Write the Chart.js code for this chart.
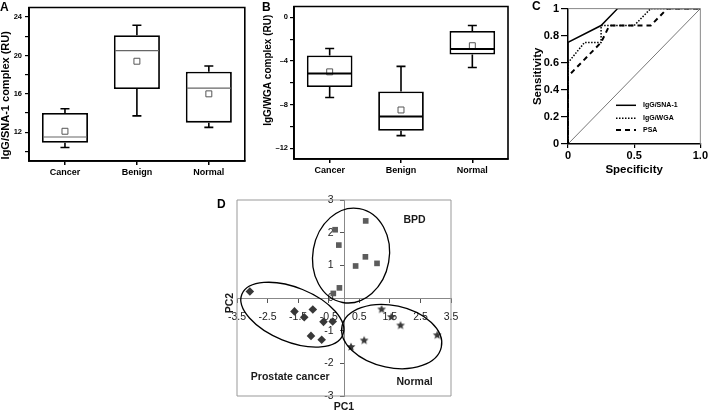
<!DOCTYPE html>
<html>
<head>
<meta charset="utf-8">
<script src="https://cdn.jsdelivr.net/npm/chart.js@4.4.1/dist/chart.umd.min.js"></script>
<style>
  html, body { margin: 0; padding: 0; background: #fff; }
  body { width: 709px; height: 412px; position: relative; overflow: hidden; font-family: 'Liberation Sans', Arial, sans-serif; }
  canvas, .tag { position: absolute; }
  .tag { font-weight: bold; font-size: 12px; line-height: 12px; color: #000; }
</style>
</head>
<body>
<canvas id="chartA" width="250" height="178" style="left:0px;top:0px"></canvas>
<canvas id="chartB" width="253" height="178" style="left:262px;top:0px"></canvas>
<canvas id="chartC" width="194" height="178" style="left:515px;top:0px"></canvas>
<canvas id="chartD" width="270" height="227" style="left:200px;top:185px"></canvas>
<div class="tag" style="left:0px;top:1px">A</div>
<div class="tag" style="left:262px;top:1px">B</div>
<div class="tag" style="left:532px;top:0px">C</div>
<div class="tag" style="left:217px;top:198px">D</div>
<script>
const groups = ['Cancer', 'Benign', 'Normal'];

// A - IgG/SNA-1 complex (RU)
const snaMin = [10.4, 13.7, 12.5];
const snaQ1 = [10.9, 16.5, 13.0];
const snaMedian = [11.5, 20.5, 16.6];
const snaQ3 = [14.0, 22.1, 18.3];
const snaMax = [14.45, 23.15, 18.9];
const snaMean = [12.1, 19.4, 16.0];
const snaTicks = [10, 12, 14, 16, 18, 20, 22, 24];
const snaTickLabels = ['', '12', '', '16', '', '20', '', '24'];

// B - IgG/WGA complex (RU)
const wgaMin = [-7.35, -10.85, -4.6];
const wgaQ1 = [-6.4, -10.4, -3.4];
const wgaMedian = [-5.15, -9.1, -2.9];
const wgaQ3 = [-3.5, -6.8, -1.25];
const wgaMax = [-2.85, -4.5, -0.75];
const wgaMean = [-5.0, -8.5, -2.6];
const wgaTicks = [-12, -10, -8, -6, -4, -2, 0];
const wgaTickLabels = ['\u201312', '', '\u20138', '', '\u20134', '', '0'];

// C - ROC curves
const rocLabels = ['IgG/SNA-1', 'IgG/WGA', 'PSA'];
const specSna = [0, 0, 0.25, 0.375, 1];
const sensSna = [0, 0.75, 0.875, 1, 1];
const specWga = [0, 0, 0.125, 0.25, 0.25, 0.5, 0.625, 1];
const sensWga = [0, 0.6, 0.75, 0.75, 0.875, 0.875, 1, 1];
const specPsa = [0, 0, 0.25, 0.3125, 0.625, 0.75, 1];
const sensPsa = [0, 0.5, 0.75, 0.875, 0.875, 1, 1];
const chanceLine = [0, 1];
const rocXTicks = [0, 0.5, 1];
const rocXLabels = ['0', '0.5', '1.0'];
const rocYTicks = [0, 0.2, 0.4, 0.6, 0.8, 1];
const rocYLabels = ['0', '0.2', '0.4', '0.6', '0.8', '1'];

// D - PCA scores
const pcGroups = ['BPD', 'Prostate cancer', 'Normal'];
const bpdPC1 = [-0.29, -0.17, 0.71, 0.70, 1.08, 0.38, -0.15, -0.35];
const bpdPC2 = [2.09, 1.62, 2.36, 1.26, 1.06, 0.98, 0.31, 0.14];
const cancerPC1 = [-3.08, -1.62, -1.30, -1.02, -0.67, -0.37, -1.08, -0.73];
const cancerPC2 = [0.20, -0.41, -0.59, -0.35, -0.73, -0.72, -1.16, -1.28];
const normalPC1 = [1.23, 1.55, 1.85, 3.05, 0.66, 0.23];
const normalPC2 = [-0.35, -0.58, -0.84, -1.14, -1.30, -1.50];
const ellipseCx = [0.23, -1.69, 1.56];
const ellipseCy = [1.30, -0.51, -1.18];
const ellipseRx = [1.25, 1.78, 1.66];
const ellipseRy = [1.46, 0.83, 0.95];
const ellipseAngle = [10, 22, 12];
const groupLabelX = [2.31, -1.76, 2.31];
const groupLabelY = [2.39, -2.43, -2.56];
const pcXTicks = [-3.5, -2.5, -1.5, -0.5, 0.5, 1.5, 2.5, 3.5];
const pcXLabels = ['-3.5', '-2.5', '-1.5', '-0.5', '0.5', '1.5', '2.5', '3.5'];
const pcYTicks = [-3, -2, -1, 0, 1, 2, 3];
const pcYLabels = ['-3', '-2', '-1', '0', '1', '2', '3'];

Chart.defaults.font.family = "'Liberation Sans', Arial, sans-serif";
Chart.defaults.color = '#000';

const fixTicks = (values) => (sc) => { sc.ticks = values.map((v) => ({ value: v })); };

// frame round the plot area
const framePlugin = (color, width, sides) => ({
  id: 'frame',
  afterDraw(chart) {
    const { ctx, chartArea: a } = chart;
    ctx.save();
    ctx.strokeStyle = color;
    ctx.lineWidth = width;
    ctx.beginPath();
    if (sides === 'all') {
      ctx.rect(a.left, a.top, a.width, a.height);
    } else {
      ctx.moveTo(a.left, a.top);
      ctx.lineTo(a.right, a.top);
      ctx.lineTo(a.right, a.bottom);
    }
    ctx.stroke();
    ctx.restore();
  },
});

// whiskers and medians on top of the floating bars
const whiskerPlugin = (s) => ({
  id: 'whiskers',
  afterDatasetsDraw(chart) {
    const { ctx } = chart;
    const y = chart.scales.y;
    const bars = chart.getDatasetMeta(0).data;
    ctx.save();
    bars.forEach((bar, i) => {
      const cx = bar.x;
      const half = bar.width / 2;
      const cap = 4.5;
      ctx.strokeStyle = '#000';
      ctx.lineWidth = 1.6;
      ctx.beginPath();
      ctx.moveTo(cx, y.getPixelForValue(s.q3[i]));
      ctx.lineTo(cx, y.getPixelForValue(s.max[i]));
      ctx.moveTo(cx - cap, y.getPixelForValue(s.max[i]));
      ctx.lineTo(cx + cap, y.getPixelForValue(s.max[i]));
      ctx.moveTo(cx, y.getPixelForValue(s.q1[i]));
      ctx.lineTo(cx, y.getPixelForValue(s.min[i]));
      ctx.moveTo(cx - cap, y.getPixelForValue(s.min[i]));
      ctx.lineTo(cx + cap, y.getPixelForValue(s.min[i]));
      ctx.stroke();
      ctx.strokeStyle = s.medianColor;
      ctx.lineWidth = s.medianWidth;
      ctx.beginPath();
      ctx.moveTo(cx - half + 1, y.getPixelForValue(s.median[i]));
      ctx.lineTo(cx + half - 1, y.getPixelForValue(s.median[i]));
      ctx.stroke();
    });
    ctx.restore();
  },
});

function boxChart(id, s) {
  return new Chart(document.getElementById(id), {
    type: 'bar',
    data: {
      labels: groups,
      datasets: [
        {
          data: groups.map((g, i) => [s.q1[i], s.q3[i]]),
          backgroundColor: '#fff',
          borderColor: '#000',
          borderWidth: 1.8,
          borderSkipped: false,
          barPercentage: 0.64,
          categoryPercentage: 1,
          order: 1,
        },
        {
          type: 'line',
          data: s.mean,
          showLine: false,
          pointStyle: 'rect',
          pointRadius: 4.2,
          pointBackgroundColor: '#fff',
          pointBorderColor: '#555',
          pointBorderWidth: 1,
          order: 0,
        },
      ],
    },
    options: {
      responsive: false,
      animation: false,
      events: [],
      layout: { padding: s.padding },
      plugins: { legend: { display: false }, tooltip: { enabled: false } },
      scales: {
        x: {
          grid: { offset: false, drawOnChartArea: false, tickLength: 4, color: '#000', lineWidth: 1.5 },
          border: { color: '#000', width: 1.8 },
          ticks: { color: '#000', font: { size: 9, weight: 'bold' }, padding: 2 },
          afterFit: (sc) => { sc.height = s.xHeight; },
        },
        y: {
          min: s.yMin,
          max: s.yMax,
          afterBuildTicks: fixTicks(s.ticks),
          ticks: {
            autoSkip: false,
            callback: (v, i) => s.tickLabels[i],
            color: '#000',
            font: { size: 7.5, weight: 'bold' },
            padding: s.tickPad,
          },
          grid: { drawOnChartArea: false, tickLength: 4, color: '#000', lineWidth: 1.2 },
          border: { color: '#000', width: 1.8 },
          title: {
            display: true,
            text: s.title,
            color: '#000',
            font: { size: s.titleSize, weight: 'bold', lineHeight: 1 },
            padding: { top: s.titlePad },
          },
          afterFit: (sc) => { sc.width = s.yWidth; },
        },
      },
    },
    plugins: [framePlugin('#000', 1.6, 'all'), whiskerPlugin(s)],
  });
}

// em spaces only nudge the rotated titles along the axis, as in the figure
boxChart('chartA', {
  min: snaMin, q1: snaQ1, median: snaMedian, q3: snaQ3, max: snaMax, mean: snaMean,
  ticks: snaTicks, tickLabels: snaTickLabels, yMin: 9, yMax: 25,
  title: 'IgG/SNA-1 complex (RU)\u2003\u2003', titleSize: 11, titlePad: 0, tickPad: 3,
  yWidth: 29, xHeight: 17, padding: { top: 5, right: 5 },
  medianColor: '#666', medianWidth: 1.1,
});

boxChart('chartB', {
  min: wgaMin, q1: wgaQ1, median: wgaMedian, q3: wgaQ3, max: wgaMax, mean: wgaMean,
  ticks: wgaTicks, tickLabels: wgaTickLabels, yMin: -13, yMax: 1,
  title: '\u2003\u2003\u2002IgG/WGA complex (RU)', titleSize: 10, titlePad: 1, tickPad: 2,
  yWidth: 32, xHeight: 19, padding: { top: 5, right: 7 },
  medianColor: '#000', medianWidth: 1.8,
});

// C - legend drawn inside the plot area
const rocLegend = {
  id: 'rocLegend',
  afterDraw(chart) {
    const { ctx, chartArea: a } = chart;
    ctx.save();
    ctx.font = "bold 7px 'Liberation Sans', Arial, sans-serif";
    ctx.fillStyle = '#000';
    ctx.textBaseline = 'middle';
    const rows = [a.bottom - 38.7, a.bottom - 25.7, a.bottom - 14];
    rocLabels.forEach((label, i) => {
      const ds = chart.data.datasets[i];
      ctx.strokeStyle = ds.borderColor;
      ctx.lineWidth = ds.borderWidth;
      ctx.setLineDash(ds.borderDash || []);
      ctx.beginPath();
      ctx.moveTo(a.left + 48, rows[i]);
      ctx.lineTo(a.left + 68, rows[i]);
      ctx.stroke();
      ctx.fillText(label, a.left + 75, rows[i]);
    });
    ctx.restore();
  },
};

const toPoints = (xs, ys) => xs.map((x, i) => ({ x, y: ys[i] }));

new Chart(document.getElementById('chartC'), {
  type: 'scatter',
  data: {
    datasets: [
      { label: rocLabels[0], data: toPoints(specSna, sensSna), borderColor: '#000', borderWidth: 1.5, showLine: true, pointRadius: 0 },
      { label: rocLabels[1], data: toPoints(specWga, sensWga), borderColor: '#000', borderWidth: 1.5, borderDash: [1.5, 1.5], showLine: true, pointRadius: 0 },
      { label: rocLabels[2], data: toPoints(specPsa, sensPsa), borderColor: '#000', borderWidth: 2, borderDash: [5, 4], showLine: true, pointRadius: 0 },
      { label: 'reference', data: toPoints(chanceLine, chanceLine), borderColor: '#777', borderWidth: 1, showLine: true, pointRadius: 0 },
    ],
  },
  options: {
    responsive: false,
    animation: false,
    events: [],
    layout: { padding: { top: 7, right: 8 } },
    plugins: { legend: { display: false }, tooltip: { enabled: false } },
    scales: {
      x: {
        min: 0,
        max: 1,
        afterBuildTicks: fixTicks(rocXTicks),
        ticks: { autoSkip: false, maxRotation: 0, callback: (v, i) => rocXLabels[i], font: { size: 11, weight: 'bold' }, padding: 1 },
        grid: { drawOnChartArea: false, tickLength: 4, color: '#000', lineWidth: 1.2 },
        border: { color: '#000', width: 1.5 },
        title: { display: true, text: 'Specificity', font: { size: 11.5, weight: 'bold' }, padding: { top: 0, bottom: 1 } },
        afterFit: (sc) => { sc.height = 34; },
      },
      y: {
        min: 0,
        max: 1,
        afterBuildTicks: fixTicks(rocYTicks),
        ticks: { autoSkip: false, callback: (v, i) => rocYLabels[i], font: { size: 11, weight: 'bold' }, padding: 2 },
        grid: { drawOnChartArea: false, tickLength: 7, color: '#000', lineWidth: 1.2 },
        border: { color: '#000', width: 1.5 },
        title: { display: true, text: 'Sensitivity', font: { size: 11.5, weight: 'bold' }, padding: { top: 16 } },
        afterFit: (sc) => { sc.width = 53; },
      },
    },
  },
  plugins: [framePlugin('#888', 1, 'topRight'), rocLegend],
});

// D - star marker image for the normal group
function starImage(r, color) {
  const c = document.createElement('canvas');
  const size = Math.ceil(r * 2 + 2);
  c.width = size;
  c.height = size;
  const g = c.getContext('2d');
  g.fillStyle = color;
  g.beginPath();
  for (let k = 0; k < 10; k += 1) {
    const rad = k % 2 ? r * 0.45 : r;
    const ang = -Math.PI / 2 + (k * Math.PI) / 5;
    g.lineTo(size / 2 + rad * Math.cos(ang), size / 2 + rad * Math.sin(ang));
  }
  g.closePath();
  g.fill();
  return c;
}

const pcaDecor = {
  id: 'pcaDecor',
  afterDatasetsDraw(chart) {
    const { ctx, chartArea: a } = chart;
    const { x, y } = chart.scales;
    const ux = x.getPixelForValue(1) - x.getPixelForValue(0);
    const uy = y.getPixelForValue(0) - y.getPixelForValue(1);
    ctx.save();
    ctx.strokeStyle = '#000';
    ctx.lineWidth = 1.3;
    ellipseCx.forEach((cx, i) => {
      ctx.beginPath();
      ctx.ellipse(x.getPixelForValue(cx), y.getPixelForValue(ellipseCy[i]),
        ellipseRx[i] * ux, ellipseRy[i] * uy, (ellipseAngle[i] * Math.PI) / 180, 0, Math.PI * 2);
      ctx.stroke();
    });
    ctx.fillStyle = '#1a1a1a';
    ctx.font = "bold 10.5px 'Liberation Sans', Arial, sans-serif";
    ctx.textAlign = 'center';
    ctx.textBaseline = 'middle';
    pcGroups.forEach((name, i) => {
      ctx.fillText(name, x.getPixelForValue(groupLabelX[i]), y.getPixelForValue(groupLabelY[i]));
    });
    ctx.fillText('PC1', x.getPixelForValue(0), a.bottom + 11);
    ctx.translate(a.left - 7, y.getPixelForValue(0) + 5);
    ctx.rotate(-Math.PI / 2);
    ctx.fillText('PC2', 0, 0);
    ctx.restore();
  },
};

new Chart(document.getElementById('chartD'), {
  type: 'scatter',
  data: {
    datasets: [
      { label: pcGroups[0], data: toPoints(bpdPC1, bpdPC2), pointStyle: 'rect', pointRadius: 4, backgroundColor: '#5c5c5c', borderColor: '#5c5c5c', borderWidth: 0 },
      { label: pcGroups[1], data: toPoints(cancerPC1, cancerPC2), pointStyle: 'rectRot', pointRadius: 4.3, backgroundColor: '#383838', borderColor: '#383838', borderWidth: 0 },
      { label: pcGroups[2], data: toPoints(normalPC1, normalPC2), pointStyle: starImage(4.6, '#3a3a3a'), pointRadius: 5 },
    ],
  },
  options: {
    responsive: false,
    animation: false,
    events: [],
    layout: { padding: { left: 37, top: 15, right: 19, bottom: 16 } },
    plugins: { legend: { display: false }, tooltip: { enabled: false } },
    scales: {
      x: {
        type: 'linear',
        min: -3.5,
        max: 3.5,
        position: { y: 0 },
        afterBuildTicks: fixTicks(pcXTicks),
        ticks: { autoSkip: false, maxRotation: 0, callback: (v, i) => pcXLabels[i], font: { size: 10.5 }, color: '#222', padding: 9 },
        grid: { drawOnChartArea: false, tickLength: 4, color: '#555' },
        border: { color: '#888', width: 1 },
        afterFit: (sc) => { sc.height = 0; },
      },
      y: {
        min: -3,
        max: 3,
        position: { x: 0 },
        afterBuildTicks: fixTicks(pcYTicks),
        // Chart.js puts labels of a value-positioned y axis flush on the line; the em space keeps the gap
        ticks: { autoSkip: false, callback: (v, i) => `${pcYLabels[i]}\u2003`, font: { size: 10.5 }, color: '#222', padding: 6 },
        grid: { drawOnChartArea: false, tickLength: 4, color: '#555' },
        border: { color: '#888', width: 1 },
        afterFit: (sc) => { sc.width = 0; },
      },
    },
  },
  plugins: [framePlugin('#999', 1, 'all'), pcaDecor],
});
</script>
</body>
</html>
